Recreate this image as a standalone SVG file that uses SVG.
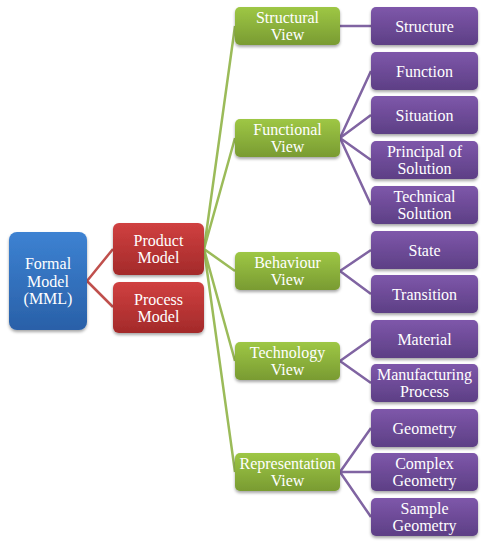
<svg xmlns="http://www.w3.org/2000/svg" width="490" height="548" viewBox="0 0 490 548">
<defs>
<linearGradient id="gB" x1="0" y1="0" x2="0" y2="1"><stop offset="0" stop-color="#3d82d2"/><stop offset="1" stop-color="#2960a8"/></linearGradient>
<linearGradient id="gR" x1="0" y1="0" x2="0" y2="1"><stop offset="0" stop-color="#d04040"/><stop offset="1" stop-color="#a32a2a"/></linearGradient>
<linearGradient id="gG" x1="0" y1="0" x2="0" y2="1"><stop offset="0" stop-color="#9ec745"/><stop offset="1" stop-color="#799b32"/></linearGradient>
<linearGradient id="gP" x1="0" y1="0" x2="0" y2="1"><stop offset="0" stop-color="#7e57aa"/><stop offset="1" stop-color="#5d3f85"/></linearGradient>
<filter id="sh" x="-10%" y="-10%" width="120%" height="130%"><feDropShadow dx="0" dy="2" stdDeviation="1.5" flood-color="#000" flood-opacity="0.35"/></filter>
</defs>
<style>
text{font-family:'Liberation Serif','Times New Roman','Noto Serif','DejaVu Serif',Tinos,Times,serif;font-size:16px;fill:#fff;text-anchor:middle}
.b{fill:url(#gB);filter:url(#sh)}
.r{fill:url(#gR);filter:url(#sh)}
.g{fill:url(#gG);filter:url(#sh)}
.p{fill:url(#gP);filter:url(#sh)}
.cr{stroke:#c0504d;stroke-width:2.5;fill:none}
.cg{stroke:#9bbb59;stroke-width:2.5;fill:none}
.cp{stroke:#8064a2;stroke-width:2.5;fill:none}
</style>
<g id="connectors">
<path class="cr" d="M87 281L113 249M87 281L113 307"/>
<path class="cg" d="M204 249L235 26M204 249L235 138M204 249L235 271M204 249L235 361M204 249L235 472"/>
<path class="cp" d="M340 26L371 26"/>
<path class="cp" d="M340 138L371 71M340 138L371 115M340 138L371 160M340 138L371 205"/>
<path class="cp" d="M340 271L371 250M340 271L371 294"/>
<path class="cp" d="M340 361L371 339M340 361L371 383"/>
<path class="cp" d="M340 472L371 428M340 472L371 472M340 472L371 517"/>
</g>
<g id="formal"><rect class="b" x="9" y="232" width="78" height="98" rx="8"/><text x="48" y="269">Formal</text><text x="48" y="286.5">Model</text><text x="48" y="304">(MML)</text></g>
<g id="product"><rect class="r" x="113" y="223" width="91" height="52" rx="6"/><text x="158.5" y="246">Product</text><text x="158.5" y="263">Model</text></g>
<g id="process"><rect class="r" x="113" y="282" width="91" height="51" rx="6"/><text x="158.5" y="305">Process</text><text x="158.5" y="322">Model</text></g>
<g id="structural"><rect class="g" x="235" y="7" width="105" height="38" rx="5"/><text x="287.5" y="23">Structural</text><text x="287.5" y="39.5">View</text></g>
<g id="functional"><rect class="g" x="235" y="119" width="105" height="38" rx="5"/><text x="287.5" y="135">Functional</text><text x="287.5" y="151.5">View</text></g>
<g id="behaviour"><rect class="g" x="235" y="252" width="105" height="38" rx="5"/><text x="287.5" y="268">Behaviour</text><text x="287.5" y="284.5">View</text></g>
<g id="technology"><rect class="g" x="235" y="342" width="105" height="38" rx="5"/><text x="287.5" y="358">Technology</text><text x="287.5" y="374.5">View</text></g>
<g id="representation"><rect class="g" x="235" y="453" width="105" height="38" rx="5"/><text x="287.5" y="469">Representation</text><text x="287.5" y="485.5">View</text></g>
<g id="structure"><rect class="p" x="371" y="7" width="107" height="38" rx="5"/><text x="424.5" y="31.5">Structure</text></g>
<g id="function"><rect class="p" x="371" y="52" width="107" height="38" rx="5"/><text x="424.5" y="76.5">Function</text></g>
<g id="situation"><rect class="p" x="371" y="96" width="107" height="38" rx="5"/><text x="424.5" y="120.5">Situation</text></g>
<g id="principal"><rect class="p" x="371" y="141" width="107" height="38" rx="5"/><text x="424.5" y="157">Principal of</text><text x="424.5" y="173.5">Solution</text></g>
<g id="technical"><rect class="p" x="371" y="186" width="107" height="38" rx="5"/><text x="424.5" y="202">Technical</text><text x="424.5" y="218.5">Solution</text></g>
<g id="state"><rect class="p" x="371" y="231" width="107" height="38" rx="5"/><text x="424.5" y="255.5">State</text></g>
<g id="transition"><rect class="p" x="371" y="275" width="107" height="38" rx="5"/><text x="424.5" y="299.5">Transition</text></g>
<g id="material"><rect class="p" x="371" y="320" width="107" height="38" rx="5"/><text x="424.5" y="344.5">Material</text></g>
<g id="manufacturing"><rect class="p" x="371" y="364" width="107" height="38" rx="5"/><text x="424.5" y="380">Manufacturing</text><text x="424.5" y="396.5">Process</text></g>
<g id="geometry"><rect class="p" x="371" y="409" width="107" height="38" rx="5"/><text x="424.5" y="433.5">Geometry</text></g>
<g id="complex"><rect class="p" x="371" y="453" width="107" height="38" rx="5"/><text x="424.5" y="469">Complex</text><text x="424.5" y="485.5">Geometry</text></g>
<g id="sample"><rect class="p" x="371" y="498" width="107" height="38" rx="5"/><text x="424.5" y="514">Sample</text><text x="424.5" y="530.5">Geometry</text></g>
</svg>
